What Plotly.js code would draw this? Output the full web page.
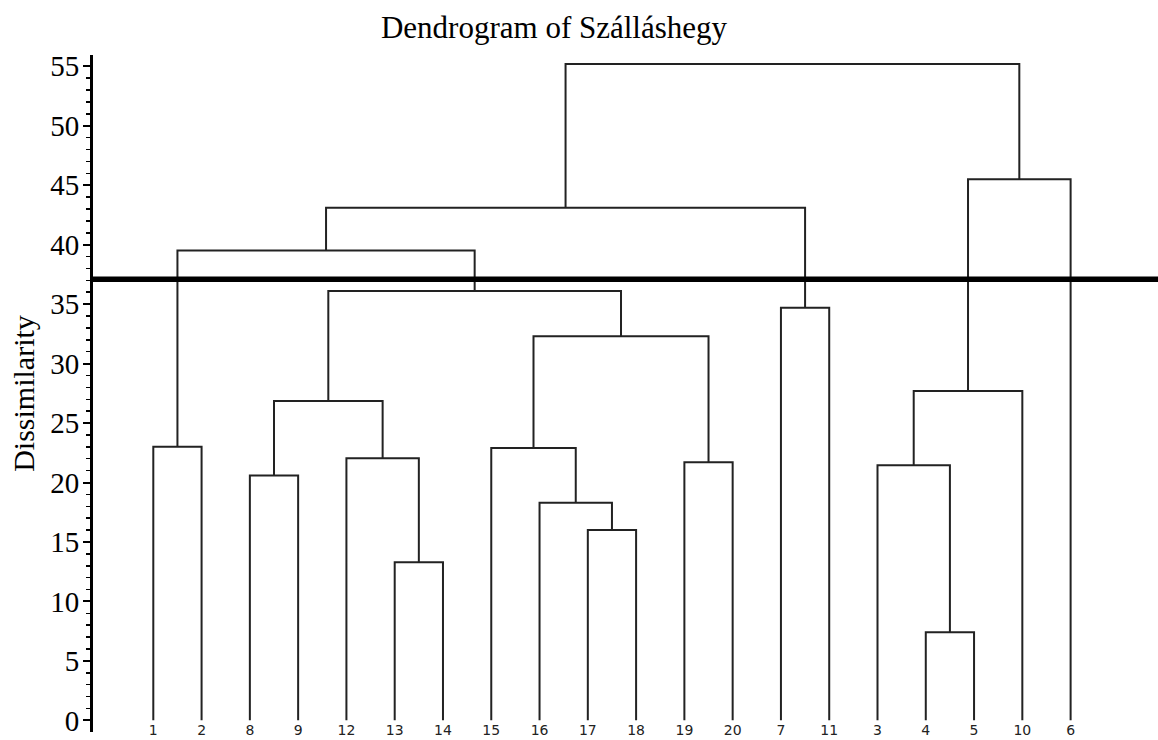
<!DOCTYPE html>
<html>
<head>
<meta charset="utf-8">
<script src="https://cdn.plot.ly/plotly-3.0.1.min.js"></script>
<style>html,body{margin:0;padding:0;background:#fff;}#chart{width:1158px;height:740px;}</style>
</head>
<body>
<div id="chart"></div>
<script>
// Leaf labels in dendrogram order (left to right)
const leafOrder = ['1','2','8','9','12','13','14','15','16','17','18','19','20','7','11','3','4','5','10','6'];

// Agglomeration steps: observation ids 1..20, new clusters numbered 21, 22, ...
const mergeLeft   = ['4','13','17','16','8','3','19','12','15','1','c25','c26','c29','7','c31','c30','c36','c32','c37'];
const mergeRight  = ['5','14','18','c23','9','c21','20','c22','c24','2','c28','10','c27','11','c33','c35','c34','6','c38'];
const mergeHeight = [7.4, 13.3, 16.0, 18.3, 20.6, 21.45, 21.7, 22.05, 22.9, 23.0, 26.85, 27.7, 32.3, 34.7, 36.1, 39.5, 43.1, 45.5, 55.2];

// Truncation level
const cutHeight = 37.1;

const yTickVals = [0, 5, 10, 15, 20, 25, 30, 35, 40, 45, 50, 55];

// Build dendrogram geometry in data units
const pos = {};
const ht = {};
leafOrder.forEach((lab, i) => { pos[lab] = i; ht[lab] = 0; });
const xs = [], ys = [];
mergeLeft.forEach((l, k) => {
  const r = mergeRight[k];
  const id = 'c' + (21 + k);
  const h = mergeHeight[k];
  xs.push(pos[l], pos[l], pos[r], pos[r], null);
  ys.push(ht[l], h, h, ht[r], null);
  pos[id] = (pos[l] + pos[r]) / 2;
  ht[id] = h;
});

const trace = {
  x: xs, y: ys, type: 'scatter', mode: 'lines',
  line: {color: '#222', width: 2},
  hoverinfo: 'skip', showlegend: false
};

const layout = {
  width: 1158, height: 740,
  margin: {l: 93, r: 0, t: 55, b: 8},
  paper_bgcolor: '#fff', plot_bgcolor: '#fff',
  title: {
    text: 'Dendrogram of Szálláshegy',
    font: {family: 'Liberation Serif, Times New Roman, serif', size: 31, color: '#000'},
    x: 554/1158, xref: 'container', xanchor: 'center',
    y: 1 - 27/740, yref: 'container', yanchor: 'middle'
  },
  xaxis: {
    range: [-1.249, 20.81],
    showline: false, showgrid: false, zeroline: false,
    tickmode: 'array',
    tickvals: leafOrder.map((_, i) => i),
    ticktext: leafOrder,
    ticks: '',
    ticklabelstandoff: -12,
    tickfont: {family: 'DejaVu Sans, Verdana, sans-serif', size: 14, color: '#222'}
  },
  yaxis: {
    range: [-0.98, 55.95],
    showline: true, linecolor: '#000', linewidth: 3,
    showgrid: false, zeroline: false,
    tickmode: 'array', tickvals: yTickVals,
    ticks: 'outside', ticklen: 7, tickwidth: 2, tickcolor: '#000',
    ticklabelstandoff: -2,
    minor: {dtick: 1, tick0: 0, ticks: 'outside', ticklen: 4, tickwidth: 1.5, tickcolor: '#000', showgrid: false},
    tickfont: {family: 'Liberation Serif, Times New Roman, serif', size: 29, color: '#000'},
    title: {
      text: 'Dissimilarity', standoff: 7,
      font: {family: 'Liberation Serif, Times New Roman, serif', size: 30, color: '#000'}
    }
  },
  shapes: [{
    type: 'line', xref: 'paper', yref: 'y',
    x0: 0, x1: 1, y0: cutHeight, y1: cutHeight,
    line: {color: '#000', width: 5.5}
  }]
};

Plotly.newPlot('chart', [trace], layout, {displayModeBar: false, staticPlot: true});
</script>
</body>
</html>
